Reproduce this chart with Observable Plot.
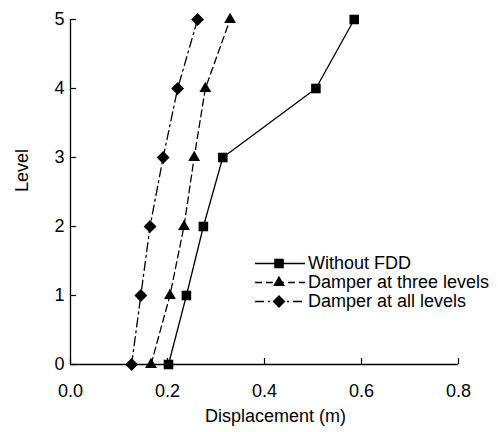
<!DOCTYPE html>
<html>
<head>
<meta charset="utf-8">
<script src="https://cdn.jsdelivr.net/npm/d3@7"></script>
<script src="https://cdn.jsdelivr.net/npm/@observablehq/plot@0.6"></script>
<style>
  body { margin: 0; background: #fff; }
  #wrap { position: relative; width: 498px; height: 432px; font-family: "Liberation Sans", Arial, Helvetica, sans-serif; }
  #legend { position: absolute; left: 255px; top: 254px; font-size: 18px; color: #000; }
  #legend .row { display: flex; align-items: center; height: 19px; white-space: nowrap; }
  #legend svg { display: block; margin-right: 3px; }
</style>
</head>
<body>
<div id="wrap"></div>
<script>
// ---- data ----
const levels = [0, 1, 2, 3, 4, 5];
const withoutFDD = [0.202, 0.239, 0.274, 0.314, 0.506, 0.585];
const damperThree = [0.166, 0.205, 0.234, 0.255, 0.278, 0.329];
const damperAll = [0.126, 0.145, 0.164, 0.191, 0.221, 0.262];
const seriesNames = ["Without FDD", "Damper at three levels", "Damper at all levels"];
const xTicks = [0, 0.2, 0.4, 0.6, 0.8];
const yTicks = [0, 1, 2, 3, 4, 5];
const xLabel = "Displacement (m)";
const yLabel = "Level";

// ---- styles ----
const styles = [
  {symbol: "square", d3symbol: d3.symbolSquare, r: 5.4, dash: null},
  {symbol: "triangle", d3symbol: d3.symbolTriangle, r: 4.4, dash: "7,4"},
  {symbol: "diamond2", d3symbol: d3.symbolDiamond2, r: 5.8, dash: "9,4,2,4"}
];
const seriesValues = [withoutFDD, damperThree, damperAll];

const rows = [];
seriesValues.forEach((vals, s) => {
  vals.forEach((v, i) => rows.push({series: seriesNames[s], s, x: v, level: levels[i]}));
});

const marks = [
  Plot.ruleX([0], {stroke: "#000", strokeWidth: 1.3}),
  Plot.ruleY([0], {stroke: "#000", strokeWidth: 1.3}),
  Plot.ruleX(xTicks, {x: d => d, y1: 0, y2: 0, insetBottom: 6, stroke: "#000", strokeWidth: 1.2}),
  Plot.ruleY(yTicks, {y: d => d, x1: 0, x2: 0, insetLeft: 6, stroke: "#000", strokeWidth: 1.2}),
  Plot.axisX({ticks: xTicks, tickFormat: d3.format(".1f"), tickSize: 0, tickPadding: 20, label: null, fontSize: 18}),
  Plot.axisY({ticks: yTicks, tickFormat: d3.format("d"), tickSize: 0, tickPadding: 6, label: null, fontSize: 18}),
  Plot.text([yLabel], {text: d => d, frameAnchor: "left", dx: -48, rotate: -90, fontSize: 18}),
  Plot.text([xLabel], {text: d => d, frameAnchor: "bottom", dy: 57, dx: 11, fontSize: 18})
];

styles.forEach((st, s) => {
  const data = rows.filter(d => d.s === s);
  marks.push(Plot.line(data, {x: "x", y: "level", stroke: "#000", strokeWidth: 1.3, strokeDasharray: st.dash}));
  marks.push(Plot.dot(data, {x: "x", y: "level", symbol: () => st.symbol, r: st.r, fill: "#000", stroke: "none"}));
});

const chart = Plot.plot({
  width: 498,
  height: 432,
  marginLeft: 70,
  marginRight: 40,
  marginTop: 19,
  marginBottom: 68,
  style: {fontFamily: '"Liberation Sans", Arial, Helvetica, sans-serif', fontSize: "18px", color: "#000", background: "#fff"},
  x: {domain: [0, 0.8]},
  y: {domain: [0, 5]},
  symbol: {type: "identity"},
  marks
});

const wrap = document.getElementById("wrap");
wrap.appendChild(chart);

// ---- legend ----
const legend = document.createElement("div");
legend.id = "legend";
seriesNames.forEach((name, s) => {
  const st = styles[s];
  const row = document.createElement("div");
  row.className = "row";
  const svg = d3.create("svg").attr("width", 50).attr("height", 19);
  svg.append("line").attr("x1", 0).attr("x2", 50).attr("y1", 9.5).attr("y2", 9.5)
    .attr("stroke", "#000").attr("stroke-width", 1.3).attr("stroke-dasharray", st.dash);
  svg.append("path").attr("transform", "translate(24,9.5)")
    .attr("d", d3.symbol(st.d3symbol, Math.PI * st.r * st.r)()).attr("fill", "#000");
  row.appendChild(svg.node());
  const span = document.createElement("span");
  span.textContent = name;
  row.appendChild(span);
  legend.appendChild(row);
});
wrap.appendChild(legend);
</script>
</body>
</html>
